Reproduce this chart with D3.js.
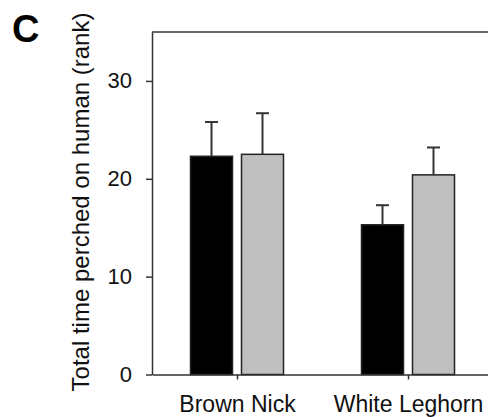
<!DOCTYPE html>
<html>
<head>
<meta charset="utf-8">
<script src="https://cdn.jsdelivr.net/npm/d3@7"></script>
<style>
  body { margin: 0; background: #fff; }
  svg { display: block; font-family: "Liberation Sans", Arial, sans-serif; }
</style>
</head>
<body>
<div id="content"></div>
<script>
const svgWidth = 488, svgHeight = 417;

const categories = ["Brown Nick", "White Leghorn"];
const series = ["black", "gray"];
const means = [[22.3, 22.5], [15.3, 20.4]];
const errors = [[3.5, 4.2], [2.0, 2.8]];
const yTicks = [0, 10, 20, 30];
const yLabel = "Total time perched on human (rank)";
const panelLabel = "C";

const fills = { black: "#000", gray: "#c0c0c0" };

window.addEventListener("load", () => {
  const svg = d3.select("#content").append("svg")
    .attr("width", svgWidth)
    .attr("height", svgHeight);

  const x0 = d3.scaleBand().domain(categories).range([152, 494]).padding(0);
  const x1 = d3.scaleBand().domain(series).range([38.5, 131.5]).paddingInner(9 / 51);
  const y = d3.scaleLinear().domain([0, 35]).range([374.5, 32]);

  const rows = [];
  categories.forEach((c, i) => {
    series.forEach((s, j) => {
      rows.push({ cat: c, s: s, v: means[i][j], e: errors[i][j] });
    });
  });

  // bars
  svg.append("g").selectAll("rect")
    .data(rows).enter().append("rect")
    .attr("x", d => x0(d.cat) + x1(d.s))
    .attr("y", d => y(d.v))
    .attr("width", x1.bandwidth())
    .attr("height", d => y(0) - y(d.v))
    .attr("fill", d => fills[d.s])
    .attr("stroke", "#222")
    .attr("stroke-width", 1.5);

  // error bars (upper only)
  const eb = svg.append("g").attr("stroke", "#333").attr("stroke-width", 2);
  eb.selectAll("line.stem")
    .data(rows).enter().append("line").attr("class", "stem")
    .attr("x1", d => x0(d.cat) + x1(d.s) + x1.bandwidth() / 2)
    .attr("x2", d => x0(d.cat) + x1(d.s) + x1.bandwidth() / 2)
    .attr("y1", d => y(d.v))
    .attr("y2", d => y(d.v + d.e));
  eb.selectAll("line.cap")
    .data(rows).enter().append("line").attr("class", "cap")
    .attr("x1", d => x0(d.cat) + x1(d.s) + x1.bandwidth() / 2 - 6.5)
    .attr("x2", d => x0(d.cat) + x1(d.s) + x1.bandwidth() / 2 + 6.5)
    .attr("y1", d => y(d.v + d.e))
    .attr("y2", d => y(d.v + d.e));

  // top frame line
  svg.append("line")
    .attr("x1", 152).attr("x2", 494)
    .attr("y1", y(35)).attr("y2", y(35))
    .attr("stroke", "#333").attr("stroke-width", 1.5);

  // y axis
  const yAxis = svg.append("g")
    .attr("transform", "translate(152,0)")
    .call(d3.axisLeft(y).tickValues(yTicks).tickSize(6).tickSizeOuter(0).tickPadding(14));
  yAxis.selectAll("text").attr("font-size", 22).attr("fill", "#111")
    .attr("font-family", "Liberation Sans, Arial, sans-serif");

  // x axis
  const xAxis = svg.append("g")
    .attr("transform", `translate(0,${y(0)})`)
    .call(d3.axisBottom(x0).tickSize(5).tickSizeOuter(0).tickPadding(16));
  xAxis.selectAll("text").attr("font-size", 23).attr("fill", "#111")
    .attr("font-family", "Liberation Sans, Arial, sans-serif");

  svg.selectAll(".domain, .tick line").attr("stroke", "#333").attr("stroke-width", 1.5);

  // y label
  svg.append("text")
    .attr("transform", "translate(89,202) rotate(-90)")
    .attr("text-anchor", "middle")
    .attr("font-size", 24)
    .attr("fill", "#111")
    .text(yLabel);

  // panel letter
  svg.append("text")
    .attr("x", 12).attr("y", 42)
    .attr("font-size", 38)
    .attr("font-weight", "bold")
    .attr("fill", "#000")
    .text(panelLabel);
});
</script>
</body>
</html>
